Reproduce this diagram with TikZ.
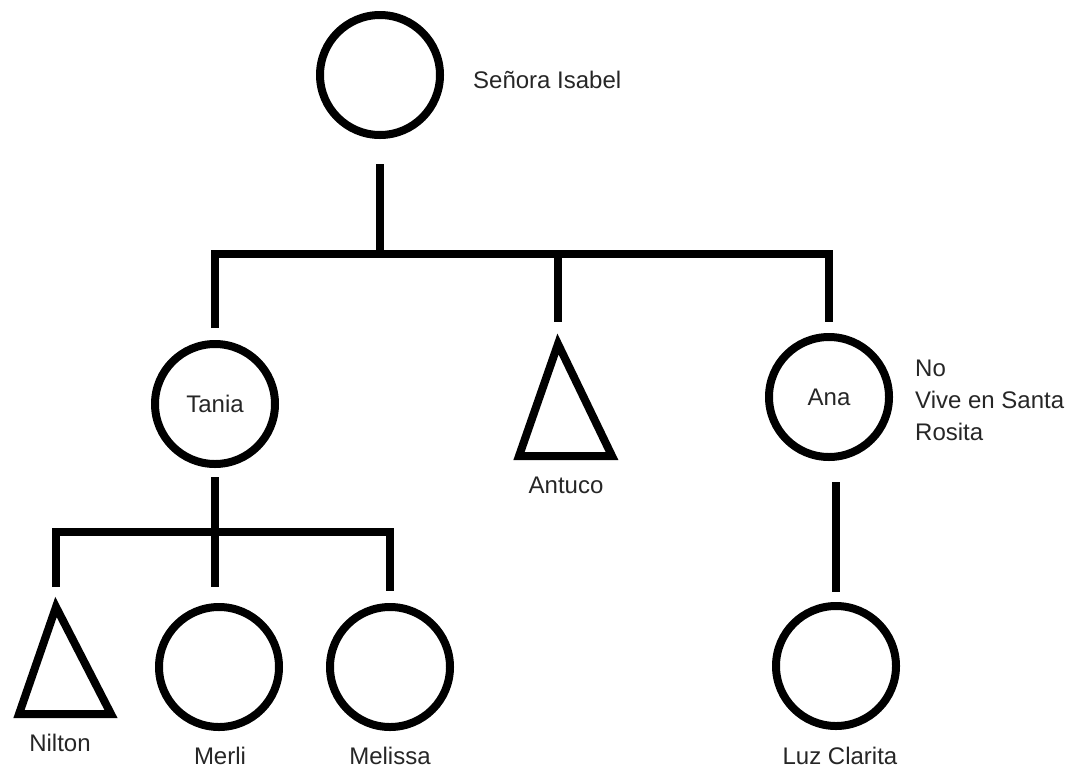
\documentclass[tikz,border=0pt]{standalone}
\usepackage{fontspec}
\setmainfont{Liberation Sans}
\usetikzlibrary{calc}
\begin{document}
\begin{tikzpicture}[x=1pt,y=-1pt,
  lbl/.style={font=\fontsize{24}{32}\selectfont, text=black!85, inner sep=0pt},
  person/.style={circle, draw, line width=8pt, minimum size=120pt, inner sep=0pt,
                 font=\fontsize{24}{32}\selectfont, text=black!85},
  tri/.style={line width=8pt, line join=miter},
  link/.style={line width=8pt}]
\useasboundingbox (0,0) rectangle (1075,769);

% first generation
\node[person] (isabel) at (380,75) {};
\node[lbl, anchor=west] (isabelLbl) at (473,80) {Señora Isabel};

% second generation
\node[person] (tania) at (215,404) {Tania};
\coordinate (antuco) at (558,344);
\draw[tri] (antuco) -- (612,456) -- (519,456) -- cycle;
\node[lbl] (antucoLbl) at (566,485) {Antuco};
\node[person] (ana) at (829,397) {Ana};
\node[lbl, anchor=west, align=left] (anaLbl) at (915,400) {No\\Vive en Santa\\Rosita};

% third generation
\coordinate (nilton) at (56,607);
\draw[tri] (nilton) -- (111,714) -- (19,714) -- cycle;
\node[lbl] (niltonLbl) at (60,743) {Nilton};
\node[person] (merli) at (219,667) {};
\node[lbl] (merliLbl) at (220,756) {Merli};
\node[person] (melissa) at (390,667) {};
\node[lbl] (melissaLbl) at (390,756) {Melissa};
\node[person] (luz) at (836,666) {};
\node[lbl] (luzLbl) at (840,756) {Luz Clarita};

% descent lines
\coordinate (fam1) at (380,254);
\draw[link] ($(isabel.south)+(0,25)$) -- (fam1);
\draw[link] ($(tania.north)+(0,-12)$) |- (fam1) -| ($(ana.north)+(0,-11)$);
\draw[link] (antuco |- fam1) -- ($(antuco)+(0,-22)$);

\coordinate (fam2) at (215,532);
\draw[link] ($(tania.south)+(0,9)$) -- ($(tania.south |- merli.north)+(0,-16)$);
\draw[link] ($(nilton)+(0,-20)$) |- (fam2) -| ($(melissa.north)+(0,-12)$);

\draw[link] ($(ana.south -| luz.north)+(0,21)$) -- ($(luz.north)+(0,-10)$);
\end{tikzpicture}
\end{document}
